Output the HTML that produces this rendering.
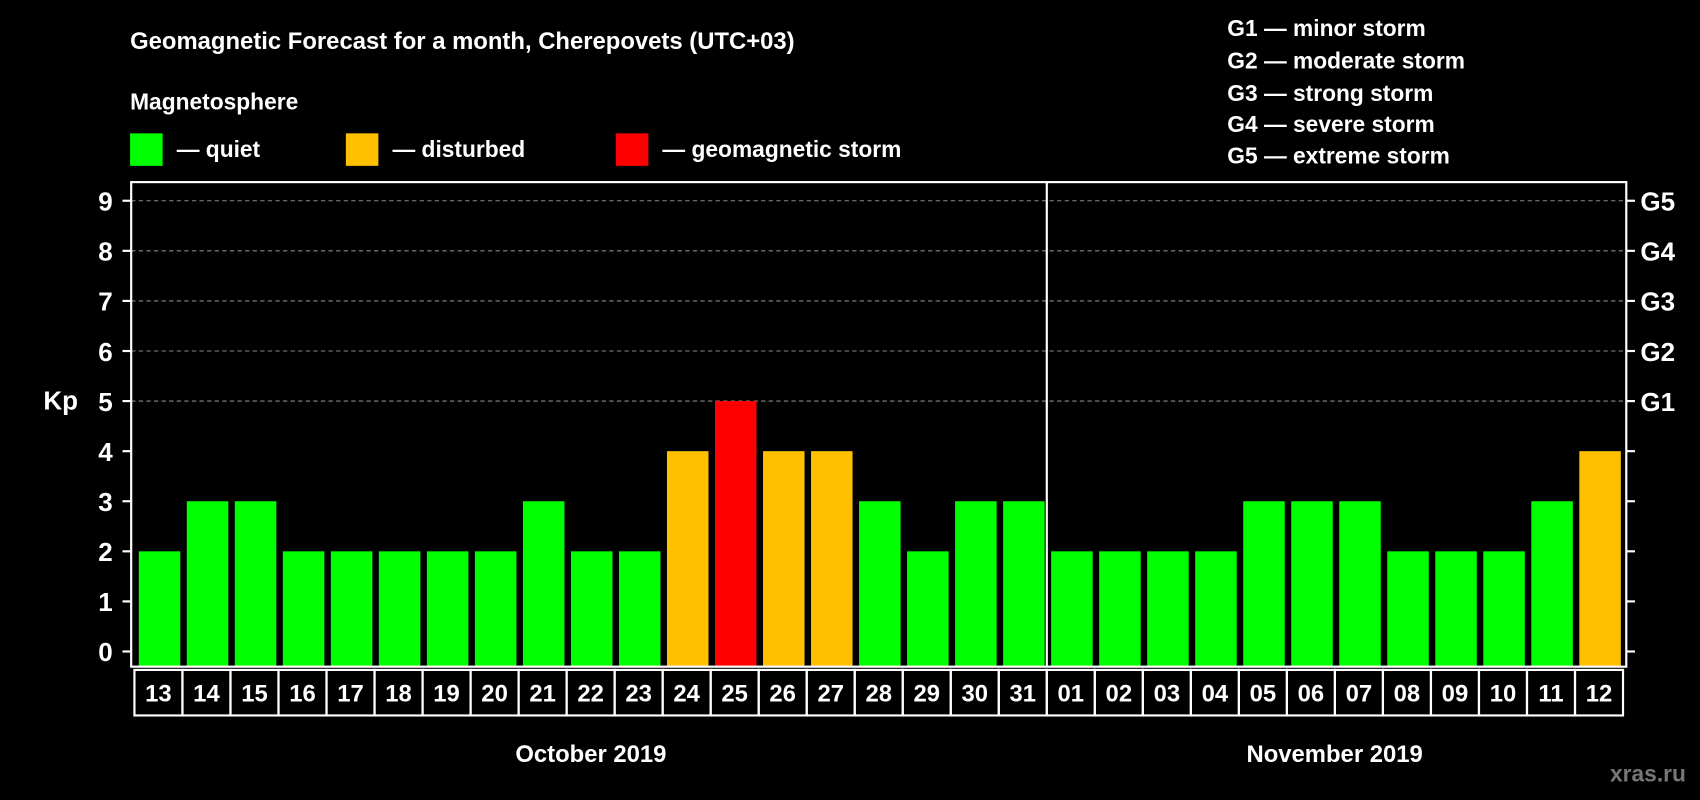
<!DOCTYPE html>
<html><head><meta charset="utf-8"><style>
html,body{margin:0;padding:0;background:#000;}
svg{display:block;font-family:"Liberation Sans",Arial,sans-serif;font-weight:bold;}
</style></head><body>
<svg id="chart" width="1700" height="800" viewBox="0 0 1568 738" preserveAspectRatio="none" xmlns="http://www.w3.org/2000/svg">
<rect x="0" y="0" width="1568" height="738" fill="#000"/>
<text x="120" y="45" fill="#fff" font-size="22">Geomagnetic Forecast for a month, Cherepovets (UTC+03)</text>
<text x="120" y="101" fill="#fff" font-size="21">Magnetosphere</text>
<g><rect x="120" y="123" width="30" height="30" fill="#00ff00"/><text x="163" y="145" fill="#fff" font-size="21">— quiet</text></g>
<g><rect x="319" y="123" width="30" height="30" fill="#ffc000"/><text x="362" y="145" fill="#fff" font-size="21">— disturbed</text></g>
<g><rect x="568" y="123" width="30" height="30" fill="#ff0000"/><text x="611" y="145" fill="#fff" font-size="21">— geomagnetic storm</text></g>
<g fill="#fff" font-size="21">
<text x="1132" y="33">G1 — minor storm</text>
<text x="1132" y="63">G2 — moderate storm</text>
<text x="1132" y="93">G3 — strong storm</text>
<text x="1132" y="122">G4 — severe storm</text>
<text x="1132" y="151">G5 — extreme storm</text>
</g>
<text x="40" y="378" fill="#fff" font-size="24">Kp</text>
<g id="grid"></g>
<g id="bars"></g>
<g id="axes"></g>
<text x="545" y="703" fill="#fff" font-size="22" text-anchor="middle">October 2019</text>
<text x="1231" y="703" fill="#fff" font-size="22" text-anchor="middle">November 2019</text>
<text x="1555" y="721" fill="#777" font-size="21" text-anchor="end">xras.ru</text>
</svg>
<script>
const days = ["13","14","15","16","17","18","19","20","21","22","23","24","25","26","27","28","29","30","31","01","02","03","04","05","06","07","08","09","10","11","12"];
const kpValues = [2,3,3,2,2,2,2,2,3,2,2,4,5,4,4,3,2,3,3,2,2,2,2,3,3,3,2,2,2,3,4];
const yTicks = [0,1,2,3,4,5,6,7,8,9];
const gLabels = ["G1","G2","G3","G4","G5"];
const monthSplitIndex = 19;

const NS = "http://www.w3.org/2000/svg";
const L = 121, R = 1500, T = 168, B = 615;
const cellL = 124, cellR = 1497;
const slot = (cellR - cellL) / days.length;
function xs(i){ return cellL + i * slot; }
function ys(v){ return 601 - v * 46.2; }
function mk(tag, attrs, parent){
  const e = document.createElementNS(NS, tag);
  for (const k in attrs) e.setAttribute(k, attrs[k]);
  parent.appendChild(e); return e;
}
const grid = document.getElementById('grid');
const bars = document.getElementById('bars');
const axes = document.getElementById('axes');

yTicks.forEach(v => {
  const y = ys(v);
  if (v >= 5) {
    const g = mk('line', {x1:L, x2:R, y1:y, y2:y, stroke:'#888', 'stroke-width':1, 'stroke-dasharray':'4,3'}, grid);
    
    
  }
  mk('line', {x1:L-8, x2:L, y1:y, y2:y, stroke:'#fff', 'stroke-width':2}, axes);
  mk('line', {x1:R, x2:R+8, y1:y, y2:y, stroke:'#fff', 'stroke-width':2}, axes);
  const t = mk('text', {x:104, y:y+9, fill:'#fff', 'font-size':24, 'text-anchor':'end'}, axes);
  t.textContent = v;
  
  
});
gLabels.forEach((g, i) => {
  const t = mk('text', {x:1513, y:ys(5+i)+9, fill:'#fff', 'font-size':24}, axes);
  t.textContent = g;
  
  
});

kpValues.forEach((v, i) => {
  const color = v >= 5 ? '#ff0000' : (v >= 4 ? '#ffc000' : '#00ff00');
  const r = mk('rect', {x:xs(i)+4, y:ys(v), width:slot-6, height:B-ys(v), fill:color}, bars);
  
  
  const c = mk('rect', {x:xs(i), y:618, width:slot, height:42, fill:'none', stroke:'#fff', 'stroke-width':2}, axes);
  
  
  const t = mk('text', {x:xs(i)+slot/2, y:647, fill:'#fff', 'font-size':22, 'text-anchor':'middle'}, axes);
  t.textContent = days[i];
  
  
});

const frame = mk('rect', {x:L, y:T, width:R-L, height:B-T, fill:'none', stroke:'#fff', 'stroke-width':2}, axes);


const sx = xs(monthSplitIndex);
const sep = mk('line', {x1:sx, x2:sx, y1:T, y2:B, stroke:'#fff', 'stroke-width':2}, axes);


</script>
</body></html>
